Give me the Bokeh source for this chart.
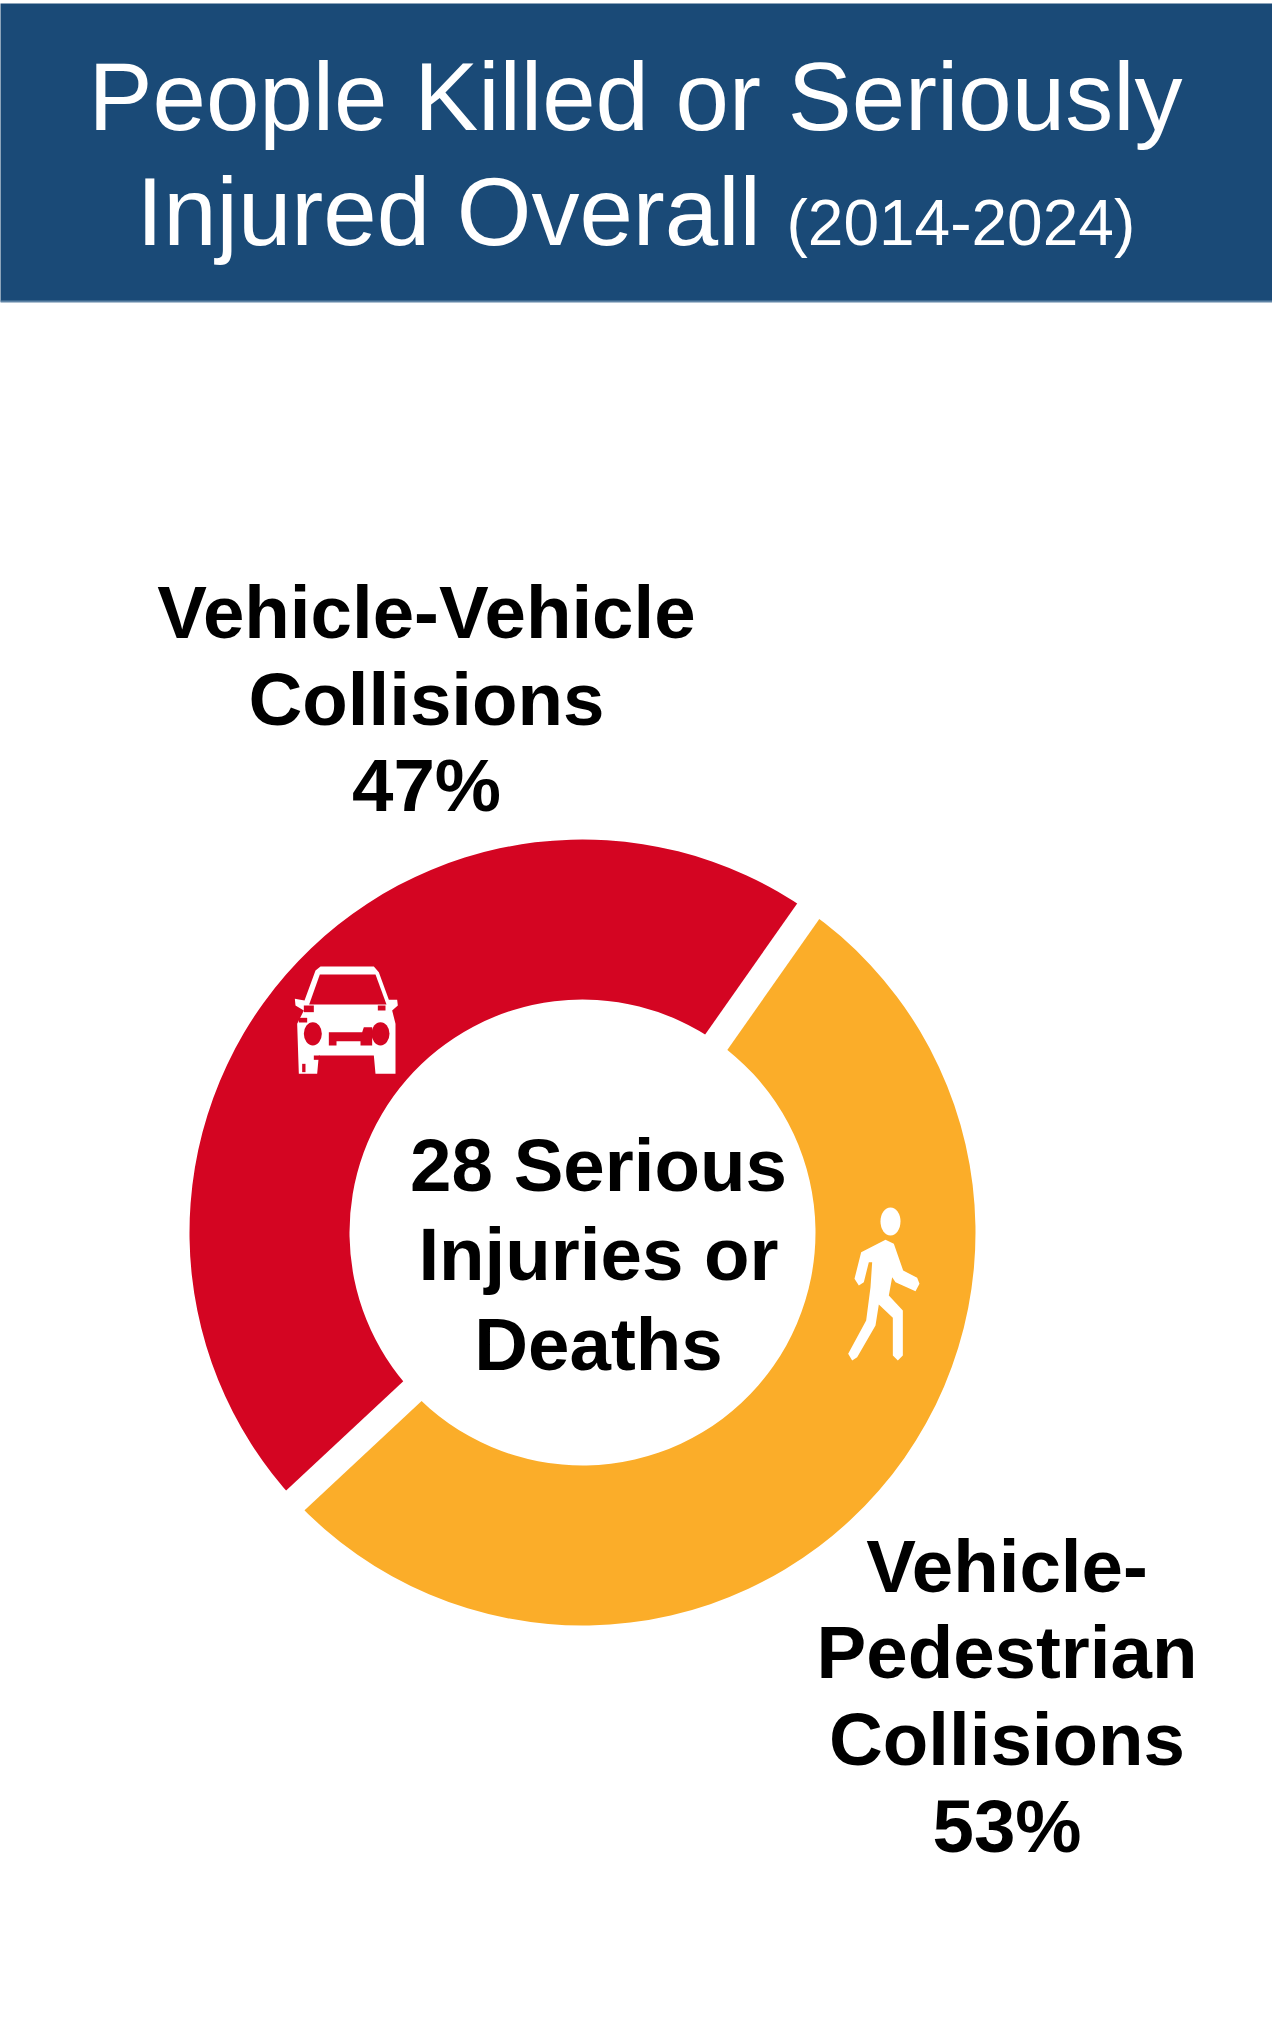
from math import pi, radians
from bokeh.plotting import figure
from bokeh.core.properties import value
from bokeh.embed import file_html
from bokeh.resources import INLINE

# ---- data ----
categories = ["Vehicle-Vehicle Collisions", "Vehicle-Pedestrian Collisions"]
shares = [46.7, 53.3]
share_labels = ["47%", "53%"]
colors = ["#D40522", "#FBAD29"]
start_angle_deg = 54.9

title_line1 = "People Killed or Seriously"
title_line2 = "Injured Overall"
title_years = "(2014-2024)"
center_lines = ["28 Serious", "Injuries or", "Deaths"]
label_a_lines = ["Vehicle-Vehicle", "Collisions", share_labels[0]]
label_b_lines = ["Vehicle-", "Pedestrian", "Collisions", share_labels[1]]

W, H = 1272, 2030
FONT = value("Liberation Sans")


def Y(py):
    return H - py


p = figure(width=W, height=H, x_range=(0, W), y_range=(0, H),
           output_backend="svg", toolbar_location=None, min_border=0,
           outline_line_color=None, background_fill_color="white",
           border_fill_color="white", match_aspect=False)
p.axis.visible = False
p.grid.visible = False
p.styles = {"position": "absolute", "left": "0px", "top": "0px"}

# banner
p.quad(left=-5, right=W + 5, bottom=Y(301), top=Y(3), fill_color="#1A4A77", line_color=None)
p.quad(left=-5, right=W + 5, bottom=Y(302), top=Y(300), fill_color="#5F84A6", line_color=None)


def label(x, py, txt, size, color="black", style="normal", align="center"):
    p.text(x=[x], y=[Y(py)], text=[txt], text_font=FONT,
           text_font_size=value(f"{size}px"), text_font_style=value(style),
           text_color=color, text_align=align, text_baseline="alphabetic")


label(635, 96, title_line1, 96, "white")
label(136, 211, title_line2, 96, "white", align="left")
label(786, 222, title_years, 64, "white", align="left")

# donut
cx, cy, r_in, r_out, gap = 582, Y(1232), 233, 393, 27
total = sum(shares)
angle = radians(start_angle_deg)
edges = [angle]
for s, c in zip(shares, colors):
    nxt = angle + 2 * pi * s / total
    p.annular_wedge(x=[cx], y=[cy], inner_radius=r_in, outer_radius=r_out,
                    start_angle=angle, end_angle=nxt, fill_color=c, line_color=None)
    angle = nxt
    edges.append(angle)
p.ray(x=[cx, cx], y=[cy, cy], length=r_out + 10, angle=edges[:2],
      line_color="white", line_width=gap)

# texts
for t, py in zip(label_a_lines, [612, 699, 785]):
    label(426, py, t, 74.5, style="bold")
for t, py in zip(label_b_lines, [1566, 1652, 1739, 1826]):
    label(1006.5, py, t, 74.5, style="bold")
for t, py in zip(center_lines, [1165, 1254, 1344]):
    label(598, py, t, 74.5, style="bold")


# car icon (zoomed-crop coordinates -> page pixels)
def car(pts):
    return [260 + a / 3 for a, _ in pts], [Y(930 + b / 3) for _, b in pts]


car_body = [(180, 108), (340, 108), (355, 125), (385, 208), (410, 208), (412, 225), (395, 240),
            (405, 280), (405, 430), (345, 430), (340, 375), (175, 375), (170, 430), (115, 430),
            (110, 280), (130, 240), (105, 225), (103, 205), (132, 210), (165, 120)]
car_window = [(178, 132), (345, 132), (378, 222), (146, 222)]
car_grille = [(205, 305), (305, 305), (310, 290), (335, 290), (335, 345), (300, 345), (300, 332),
              (228, 332), (228, 345), (205, 345)]
car_notches = [
    [(115, 262), (140, 262), (140, 276), (115, 276)],
    [(130, 225), (160, 225), (160, 245), (130, 245)],
    [(352, 225), (375, 225), (375, 240), (352, 240)],
    [(160, 375), (178, 375), (178, 388), (160, 388)],
    [(125, 400), (135, 400), (135, 425), (125, 425)],
]
xs, ys = car(car_body)
p.patch(xs, ys, fill_color="white", line_color=None)
for shape in [car_window, car_grille] + car_notches:
    xs, ys = car(shape)
    p.patch(xs, ys, fill_color=colors[0], line_color=None)
for zx in (157, 360):
    p.ellipse(x=[260 + zx / 3], y=[Y(930 + 310 / 3)], width=54 / 3, height=70 / 3,
              fill_color=colors[0], line_color=None)


# pedestrian icon
def ped(pts):
    return [820 + a / 3 for a, _ in pts], [Y(1180 + b / 3) for _, b in pts]


ped_body = [(195, 178), (220, 190), (248, 270), (290, 292), (297, 310), (285, 332), (225, 305),
            (215, 290), (205, 345), (247, 390), (247, 525), (232, 540), (217, 525), (217, 412),
            (175, 372), (165, 435), (110, 530), (95, 540), (83, 520), (137, 420), (150, 320),
            (155, 245), (145, 245), (130, 305), (115, 315), (102, 295), (122, 215)]
xs, ys = ped(ped_body)
p.patch(xs, ys, fill_color="white", line_color=None)
p.ellipse(x=[820 + 210 / 3], y=[Y(1180 + 123 / 3)], width=60 / 3, height=84 / 3,
          fill_color="white", line_color=None)

open("out.html", "w").write(file_html(p, INLINE))
